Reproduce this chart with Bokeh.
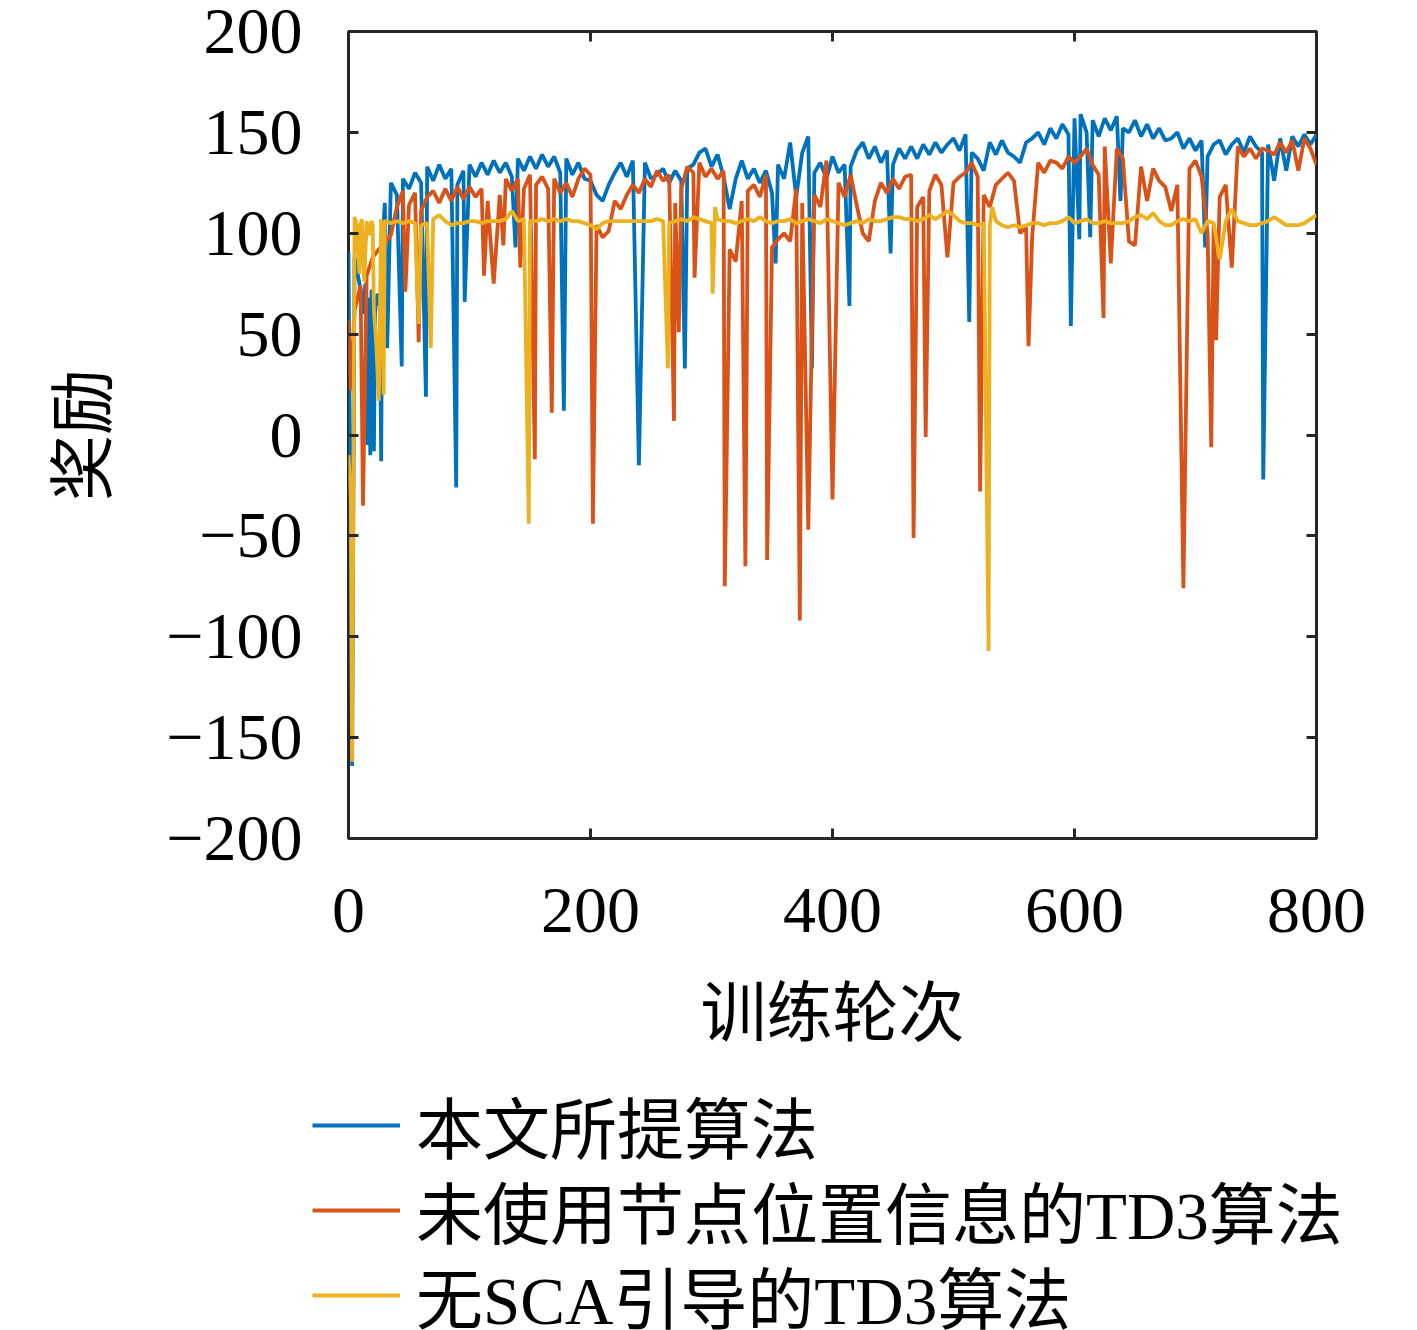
from bokeh.plotting import figure
from bokeh.layouts import column
from bokeh.models import Range1d, LinearAxis, FixedTicker, Legend, LegendItem, CustomLabelingPolicy
from bokeh.embed import file_html
from bokeh.resources import INLINE

# ---- data ----
series_names = ["本文所提算法", "未使用节点位置信息的TD3算法", "无SCA引导的TD3算法"]
series_colors = ["#0072BD", "#D95319", "#EDB120"]

# baseline values, one every 5 episodes (0, 5, ..., 800)
base_step = 5
blue_base = [
    91, 88, 72, 66, 70, 68, 115, 125, 119, 127, 122, 130, 125, 133, 126, 134, 127, 132, 124, 131,
    134, 128, 135, 129, 136, 130, 135, 128, 137, 131, 138, 132, 139, 133, 138, 130, 137, 129, 135, 127,
    126, 119, 116, 124, 130, 135, 128, 136, 130, 135, 127, 129, 132, 125, 131, 126, 132, 134, 140, 142,
    133, 139, 128, 112, 127, 136, 127, 132, 125, 131, 120, 134, 127, 145, 118, 140, 148, 130, 135, 127,
    138, 130, 134, 133, 141, 145, 137, 143, 135, 141, 134, 142, 137, 143, 137, 144, 139, 145, 140, 144,
    147, 141, 149, 140, 137, 131, 145, 139, 146, 140, 138, 135, 145, 147, 150, 144, 152, 147, 154, 149,
    157, 159, 150, 156, 148, 157, 151, 158, 152, 150, 156, 148, 154, 147, 152, 146, 147, 150, 142, 147,
    141, 146, 138, 144, 146, 139, 144, 147, 140, 148, 143, 140, 144, 126, 147, 131, 148, 143, 149, 144,
    149,
]
orange_base = [
    57, 62, 74, 79, 88, 92, 95, 99, 113, 121, 114, 120, 111, 118, 121, 115, 122, 116, 123, 117,
    123, 118, 122, 116, 124, 119, 127, 121, 127, 122, 129, 124, 128, 122, 127, 120, 125, 118, 127, 132,
    129, 104, 98, 101, 116, 112, 119, 124, 120, 127, 123, 131, 126, 129, 115, 122, 133, 130, 135, 128,
    132, 127, 131, 92, 86, 116, 121, 124, 118, 129, 93, 97, 100, 96, 122, 115, 113, 119, 113, 136,
    136, 125, 118, 129, 114, 100, 96, 116, 125, 120, 127, 122, 128, 129, 113, 118, 121, 129, 124, 88,
    125, 128, 130, 135, 128, 119, 113, 124, 127, 130, 126, 100, 103, 98, 135, 130, 136, 135, 132, 138,
    135, 138, 142, 134, 129, 143, 85, 142, 137, 96, 94, 133, 116, 132, 126, 123, 111, 124, 137, 132,
    136, 128, 100, 104, 118, 124, 83, 143, 138, 142, 137, 142, 141, 139, 145, 140, 146, 131, 147, 142,
    134,
]
yellow_base = [
    -10, 108, 104, 106, 104, 17, 106, 105, 106, 105, 106, 105, 104, 105, 107, 109, 106, 104, 105, 105,
    106, 106, 105, 106, 106, 106, 107, 111, 106, 107, 106, 106, 107, 106, 107, 106, 107, 106, 106, 105,
    104, 102, 105, 106, 106, 106, 106, 106, 106, 106, 106, 107, 106, 105, 106, 107, 106, 108, 107, 106,
    105, 107, 106, 106, 105, 106, 107, 106, 108, 106, 105, 106, 106, 107, 105, 106, 107, 106, 105, 107,
    106, 105, 104, 105, 106, 105, 107, 106, 106, 107, 108, 108, 107, 107, 106, 107, 109, 107, 109, 111,
    109, 106, 105, 105, 104, 105, 104, 106, 104, 103, 104, 103, 104, 105, 105, 104, 105, 105, 106, 108,
    105, 106, 107, 105, 105, 106, 105, 105, 105, 106, 108, 109, 107, 110, 106, 104, 104, 106, 107, 106,
    107, 100, 106, 105, 87, 106, 112, 106, 105, 104, 104, 105, 106, 108, 106, 104, 104, 104, 105, 107,
    109,
]

# single-episode spikes (episode, reward)
blue_spike_ep = [3, 12, 14, 16, 17, 18, 19, 21, 22, 24, 26, 27, 28, 32, 44, 64, 89, 96, 138, 178,
                 240, 278, 353, 383, 414, 448, 513, 597, 604, 613, 638, 708, 756]
blue_spike_val = [-164, 60, 75, -5, 68, -10, 72, -8, 64, 70, 60, -13, 95, 43, 34, 19, -26, 66, 93, 12,
                  -15, 33, 85, 33, 64, 90, 56, 54, 97, 98, 116, 93, -22]
orange_spike_ep = [2, 12, 47, 58, 112, 120, 128, 142, 154, 168, 202, 269, 273, 286, 311, 328, 346, 373,
                   380, 400, 467, 477, 522, 562, 624, 690, 713, 717]
orange_spike_val = [22, -35, 71, 46, 79, 75, 94, 83, -12, 11, -44, 7, 51, 78, -75, -65, -62, -92,
                    -47, -32, -51, -1, -28, 44, 58, -76, -6, 47]
yellow_spike_ep = [2, 3, 7, 9, 11, 13, 17, 19, 21, 23, 27, 29, 31, 58, 68, 149, 264, 301, 303, 529, 532]
yellow_spike_val = [-33, -162, 104, 80, 107, 76, 99, 106, 62, 45, 107, 20, 106, 55, 43, -44, 33, 70, 113,
                    -107, 113]

x_ticks = [0, 200, 400, 600, 800]
y_ticks = [-200, -150, -100, -50, 0, 50, 100, 150, 200]
y_tick_labels = ["−200", "−150", "−100", "−50", "0", "50", "100", "150", "200"]


def merge(base, sp_ep, sp_val):
    pts = {i * base_step: v for i, v in enumerate(base)}
    pts.update(zip(sp_ep, sp_val))
    ep = sorted(pts)
    return ep, [pts[e] for e in ep]


series = [merge(blue_base, blue_spike_ep, blue_spike_val),
          merge(orange_base, orange_spike_ep, orange_spike_val),
          merge(yellow_base, yellow_spike_ep, yellow_spike_val)]

num_font = "Liberation Serif"
cjk_font = "Liberation Serif, Noto Sans CJK SC"
ink = "#262626"

p = figure(width=1409, height=1060, output_backend="svg", toolbar_location=None,
           x_range=Range1d(0, 800), y_range=Range1d(-200, 200),
           min_border_left=348, min_border_right=93, min_border_top=31, min_border_bottom=222)
p.grid.visible = False
p.outline_line_color = ink
p.outline_line_width = 3

p.xaxis.ticker = FixedTicker(ticks=x_ticks)
p.yaxis.ticker = FixedTicker(ticks=y_ticks)
p.yaxis.major_label_overrides = dict(zip(y_ticks, y_tick_labels))

for ax in (p.xaxis[0], p.yaxis[0]):
    ax.axis_line_color = None
    ax.major_tick_in = 10
    ax.major_tick_out = 0
    ax.major_tick_line_color = ink
    ax.major_tick_line_width = 3
    ax.minor_tick_line_color = None
    ax.major_label_text_font = num_font
    ax.major_label_text_font_size = "66px"
    ax.major_label_text_color = "black"
    ax.axis_label_text_font = cjk_font
    ax.axis_label_text_font_size = "66px"
    ax.axis_label_text_font_style = "normal"
    ax.axis_label_text_color = "black"

p.xaxis.major_label_standoff = 50
p.yaxis.major_label_standoff = 46
p.xaxis.axis_label = "训练轮次"
p.yaxis.axis_label = "奖励"
p.xaxis.axis_label_standoff = 42
p.yaxis.axis_label_standoff = 43

# ticks on the top and right edges too (box on), no labels there
no_labels = CustomLabelingPolicy(code="for (const i of []) yield i")
top = LinearAxis(ticker=FixedTicker(ticks=x_ticks), major_label_policy=no_labels)
right = LinearAxis(ticker=FixedTicker(ticks=y_ticks), major_label_policy=no_labels)
for ax in (top, right):
    ax.axis_line_color = None
    ax.major_tick_in = 10
    ax.major_tick_out = 0
    ax.major_tick_line_color = ink
    ax.major_tick_line_width = 3
    ax.minor_tick_line_color = None
    ax.major_label_standoff = 0
p.add_layout(top, "above")
p.add_layout(right, "right")

for (ep, val), col in zip(series, series_colors):
    p.line(ep, val, line_color=col, line_width=3.8)

# legend strip below the axes; its lines repeat the series but fall outside its range
leg = figure(width=1409, height=270, output_backend="svg", toolbar_location=None,
             x_range=Range1d(0, 800), y_range=Range1d(1000, 1001), min_border=0)
leg.frame_align = False
leg.outline_line_color = None
leg.axis.visible = False
leg.grid.visible = False
row_bottoms = [157, 72, -13]
for (ep, val), name, col, yb in zip(series, series_names, series_colors, row_bottoms):
    r = leg.line(ep, val, line_color=col, line_width=3.8)
    lg = Legend(items=[LegendItem(label=name, renderers=[r])], location=(312, yb),
                border_line_color=None, background_fill_alpha=0, padding=0, margin=0,
                glyph_width=88, glyph_height=64, label_height=64, spacing=0,
                label_standoff=16, label_text_font=cjk_font, label_text_font_size="67px",
                label_text_color="black")
    leg.add_layout(lg)

layout = column(p, leg, spacing=0)
open("out.html", "w").write(file_html(layout, INLINE))
